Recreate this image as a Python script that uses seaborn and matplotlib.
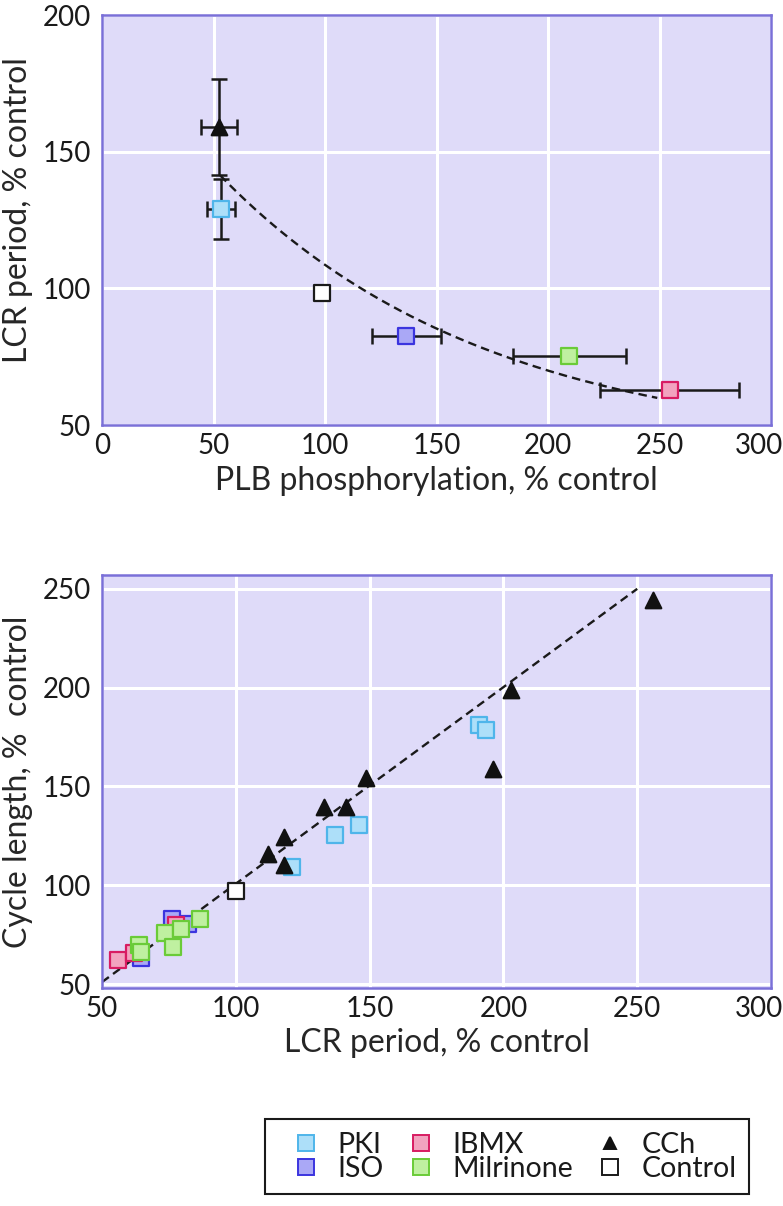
import numpy as np
import pandas as pd
import matplotlib
matplotlib.use("Agg")
import matplotlib.pyplot as plt
import matplotlib.transforms as mtransforms
import seaborn as sns
from matplotlib.lines import Line2D

# ---------------- data ----------------
# Top panel: LCR period vs PLB phosphorylation (mean +/- error)
top_groups = ["CCh", "PKI", "Control", "ISO", "Milrinone", "IBMX"]
top_plb = [52.6, 53.5, 98.5, 136.5, 209.5, 254.5]
top_plb_err = [8.0, 6.2, 0.0, 15.3, 25.3, 31.3]
top_lcr = [159.0, 129.0, 98.2, 82.5, 75.2, 62.8]
top_lcr_err = [17.5, 11.0, 0.0, 0.0, 0.0, 0.0]
# exponential fit y = c + a*exp(-k x), drawn over fit range
top_fit_params = {"c": 40.0, "a": 157.3, "k": 0.0083}
top_fit_range = [53.0, 249.0]

# Bottom panel: cycle length vs LCR period (individual cells)
pki_lcr = [121, 137, 146, 191, 193.5]
pki_cyc = [109, 125.5, 130.5, 181, 178.5]
cch_lcr = [112, 118, 118, 133, 141, 148.5, 196, 203, 256]
cch_cyc = [116, 110, 124.5, 139.5, 139.5, 154.5, 159, 199, 244.5]
iso_lcr = [64.5, 76, 82]
iso_cyc = [63, 83, 80.5]
ibmx_lcr = [56, 62, 77.5]
ibmx_cyc = [62, 65.5, 80]
mil_lcr = [64, 64.5, 73.5, 76.5, 79.5, 86.5]
mil_cyc = [70, 66, 76, 69, 78, 83]
ctl_lcr = [100]
ctl_cyc = [97]
# linear fit endpoints
bot_fit_x = [50, 250]
bot_fit_y = [51, 250]

legend_order = ["PKI", "ISO", "IBMX", "Milrinone", "CCh", "Control"]

# ---------------- styles ----------------
fills = {"PKI": "#addff9", "ISO": "#aaa8f6", "IBMX": "#f2a3bf",
         "Milrinone": "#bff0a0", "Control": "#ffffff", "CCh": "#111111"}
edges = {"PKI": "#4fb5ea", "ISO": "#3b34df", "IBMX": "#d81c62",
         "Milrinone": "#6acb38", "Control": "#1a1a1a", "CCh": "#111111"}
markers = {"PKI": "s", "ISO": "s", "IBMX": "s", "Milrinone": "s",
           "Control": "s", "CCh": "^"}

BG = "#dfdbf9"
SPINE = "#7a70d8"

sns.set_style("white", rc={"axes.facecolor": BG, "grid.color": "white",
                           "axes.edgecolor": SPINE})
plt.rcParams["font.family"] = ["Lato", "DejaVu Sans"]
plt.rcParams["text.color"] = "#1a1a1a"

TFS = 20      # tick labels
LFS = 23      # axis labels
fig = plt.figure(figsize=(7.83, 12.06), dpi=100)
W, H = 783, 1206
ax1 = fig.add_axes([102 / W, 1 - 425 / H, 669 / W, 410 / H])
ax2 = fig.add_axes([102 / W, 1 - 988 / H, 669 / W, 413 / H])

SQ = 135
TRI = 125

def style_axes(ax):
    ax.set_axisbelow(True)
    ax.grid(True, color="white", lw=2.2)
    for s in ax.spines.values():
        s.set_color(SPINE)
        s.set_linewidth(1.8)
    ax.tick_params(length=0, labelsize=TFS, colors="#1a1a1a")
    ax.tick_params(axis="y", pad=8)
    ax.tick_params(axis="x", pad=6)

def shift_last_xlabel(ax, dx_px):
    lab = ax.xaxis.get_major_ticks()[-1].label1
    off = mtransforms.ScaledTranslation(dx_px / 100.0, 0, fig.dpi_scale_trans)
    lab.set_transform(lab.get_transform() + off)

def place_ylabel(ax, ycenter_axes):
    ax.yaxis.label.set_verticalalignment("center")
    ax.yaxis.set_label_coords((18 - 102) / 669, ycenter_axes)

# ---------------- top panel ----------------
top_df = pd.DataFrame({"group": top_groups, "plb": top_plb, "lcr": top_lcr,
                       "plb_err": top_plb_err, "lcr_err": top_lcr_err})

xs = np.linspace(top_fit_range[0], top_fit_range[1], 200)
p = top_fit_params
fit_df = pd.DataFrame({"x": xs, "y": p["c"] + p["a"] * np.exp(-p["k"] * xs)})
sns.lineplot(data=fit_df, x="x", y="y", ax=ax1, color="#1a1a1a", lw=1.7,
             zorder=2).lines[-1].set_dashes([3.6, 2.2])

for _, r in top_df.iterrows():
    if r.plb_err > 0 or r.lcr_err > 0:
        ax1.errorbar(r.plb, r.lcr,
                     xerr=r.plb_err if r.plb_err > 0 else None,
                     yerr=r.lcr_err if r.lcr_err > 0 else None,
                     fmt="none", ecolor="#1a1a1a", elinewidth=1.8,
                     capsize=6, capthick=1.8, zorder=3)

for g in top_groups:
    sub = top_df[top_df.group == g]
    sns.scatterplot(data=sub, x="plb", y="lcr", ax=ax1, marker=markers[g],
                    s=TRI if g == "CCh" else SQ, color=fills[g],
                    edgecolor=edges[g], linewidth=1.6, zorder=4, legend=False)

ax1.set_xlim(0, 300)
ax1.set_ylim(50, 200)
ax1.set_xticks([0, 50, 100, 150, 200, 250, 300])
ax1.set_yticks([50, 100, 150, 200])
ax1.set_xlabel("PLB phosphorylation, % control", fontsize=LFS, labelpad=5)
ax1.set_ylabel("LCR period, % control", fontsize=LFS)
style_axes(ax1)
shift_last_xlabel(ax1, -12)
place_ylabel(ax1, 0.524)

# ---------------- bottom panel ----------------
sns.lineplot(x=bot_fit_x, y=bot_fit_y, ax=ax2, color="#1a1a1a", lw=1.7,
             zorder=2).lines[-1].set_dashes([3.6, 2.2])

bottom_sets = [("ISO", iso_lcr, iso_cyc), ("IBMX", ibmx_lcr, ibmx_cyc),
               ("Milrinone", mil_lcr, mil_cyc), ("PKI", pki_lcr, pki_cyc),
               ("CCh", cch_lcr, cch_cyc), ("Control", ctl_lcr, ctl_cyc)]
for g, xv, yv in bottom_sets:
    sns.scatterplot(x=xv, y=yv, ax=ax2, marker=markers[g],
                    s=TRI if g == "CCh" else SQ, color=fills[g],
                    edgecolor=edges[g], linewidth=1.6, zorder=4, legend=False)

ax2.set_xlim(50, 300)
ax2.set_ylim(48, 257)
ax2.set_xticks([50, 100, 150, 200, 250, 300])
ax2.set_yticks([50, 100, 150, 200, 250])
ax2.set_xlabel("LCR period, % control", fontsize=LFS, labelpad=4)
ax2.set_ylabel("Cycle length, %  control", fontsize=LFS)
style_axes(ax2)
shift_last_xlabel(ax2, -12)
place_ylabel(ax2, 0.5)

# ---------------- legend ----------------
handles = []
for g in legend_order:
    handles.append(Line2D([], [], ls="none", marker=markers[g],
                          markersize=8 if g == "CCh" else 11,
                          markerfacecolor=fills[g], markeredgecolor=edges[g],
                          markeredgewidth=1.4, label=g))
leg = fig.legend(handles=handles, ncol=3, loc="upper left",
                 bbox_to_anchor=(265 / W, 1 - 1119 / H), fontsize=20.5,
                 frameon=True, fancybox=False, edgecolor="#1a1a1a",
                 facecolor="white", framealpha=1.0,
                 handlelength=2.0, handletextpad=0.1, columnspacing=0.3,
                 labelspacing=-0.08, borderpad=0.45, borderaxespad=0)
leg.get_frame().set_linewidth(1.5)

fig.savefig("out.png", dpi=100, facecolor="white")
